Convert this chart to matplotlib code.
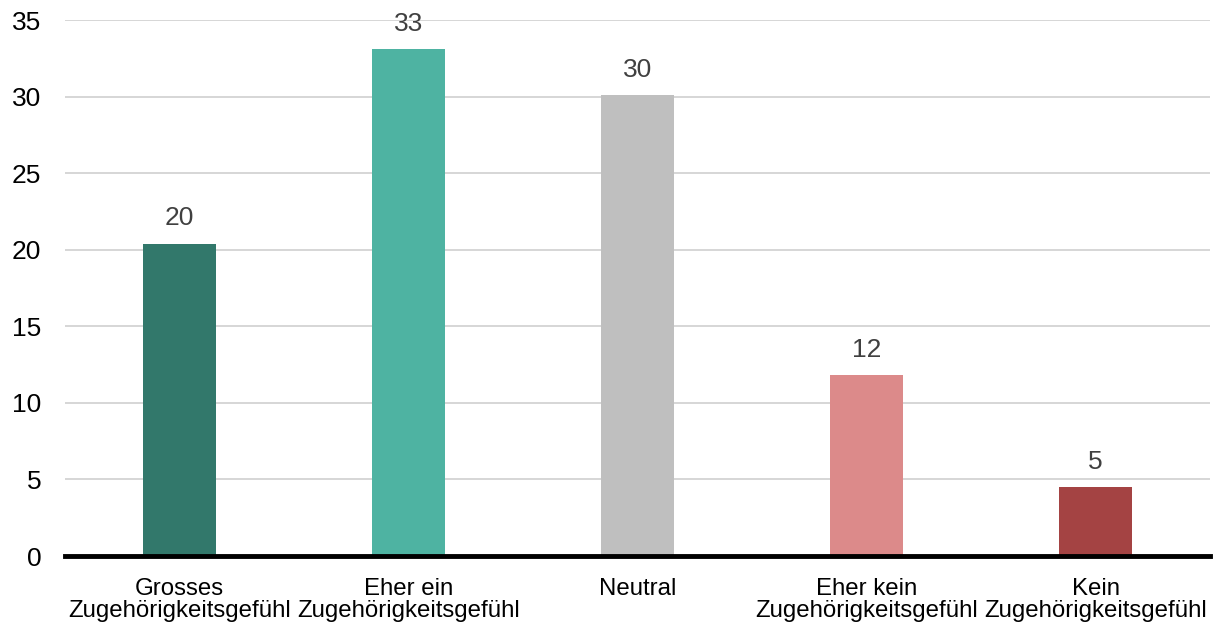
import numpy as np
import matplotlib.pyplot as plt

plt.rcParams['font.family'] = ['Liberation Sans', 'DejaVu Sans']

categories = ['Grosses\nZugehörigkeitsgefühl', 'Eher ein\nZugehörigkeitsgefühl', 'Neutral',
              'Eher kein\nZugehörigkeitsgefühl', 'Kein\nZugehörigkeitsgefühl']
values = [20.4, 33.1, 30.1, 11.8, 4.5]
value_labels = ['20', '33', '30', '12', '5']
colors = ['#32786b', '#4eb3a2', '#bfbfbf', '#dc8a8a', '#a44343']

fig = plt.figure(figsize=(12.19, 6.25), dpi=100)
ax = fig.add_axes([65 / 1219, 1 - 556 / 625, (1210 - 65) / 1219, (556 - 20) / 625])

x = np.arange(len(categories))
ax.bar(x, values, width=0.315, color=colors, zorder=2)

for xi, v, lab in zip(x, values, value_labels):
    ax.annotate(lab, (xi, v), xytext=(0, 9.5), textcoords='offset points',
                ha='center', va='bottom', fontsize=19, color='#404040')

ax.set_xlim(-0.5, len(categories) - 0.5)
ax.set_ylim(0, 35)
ax.set_yticks(range(0, 36, 5))
ax.set_xticks(x)
ax.set_xticklabels(categories, fontsize=17.3, linespacing=1.05)
ax.tick_params(axis='y', labelsize=19, length=0, pad=17)
ax.tick_params(axis='x', length=0, pad=15.5)
ax.grid(axis='y', color='#d0d0d0', linewidth=1.2, zorder=0)
for s in ['top', 'right', 'left']:
    ax.spines[s].set_visible(False)
ax.spines['bottom'].set_linewidth(3.5)
ax.spines['bottom'].set_color('black')
ax.spines['bottom'].set_zorder(3)

fig.savefig('out.png', dpi=100)
